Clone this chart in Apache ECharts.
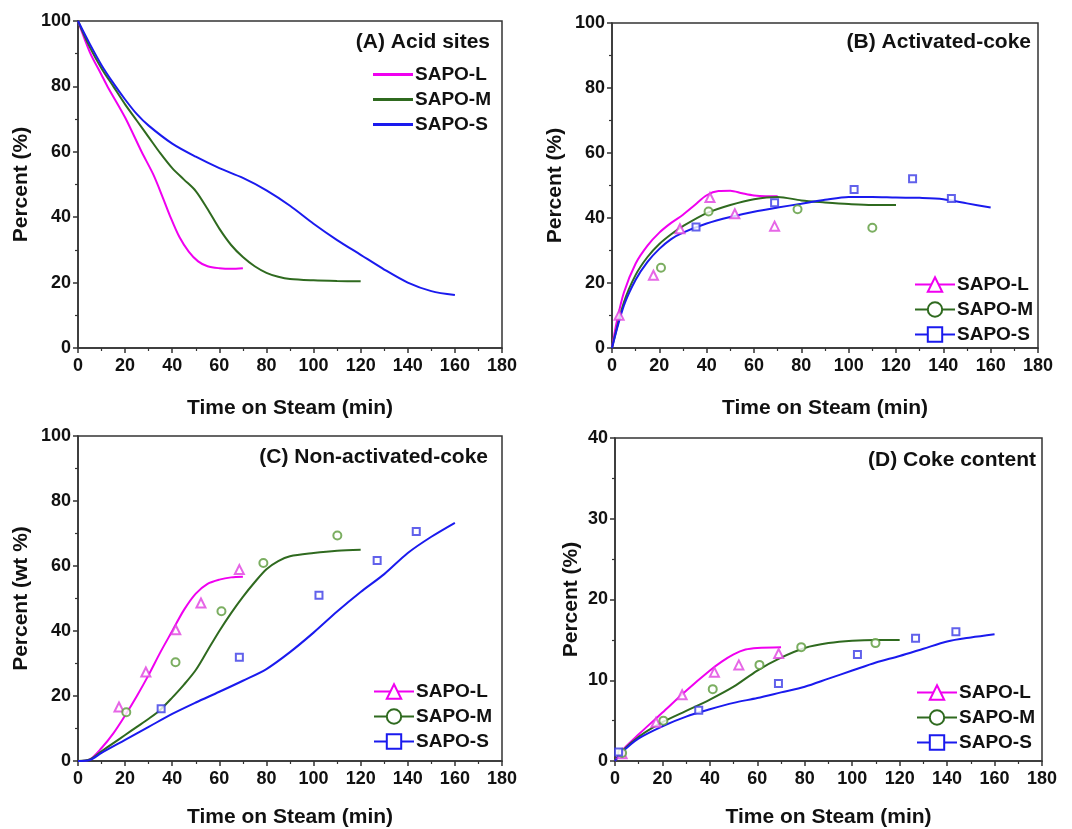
<!DOCTYPE html>
<html>
<head>
<meta charset="utf-8">
<script src="https://cdn.jsdelivr.net/npm/echarts@6/dist/echarts.min.js"></script>
<style>
  html, body { margin: 0; padding: 0; background: #fff; }
  #main { width: 1072px; height: 829px; }
</style>
</head>
<body>
<div id="main"></div>
<script>
// ---- data: [time (min), percent] ----
var names = ["SAPO-L", "SAPO-M", "SAPO-S"];
var xTicks = [0, 20, 40, 60, 80, 100, 120, 140, 160, 180];

// (A) Acid sites - fitted curves only
var acidL = [[0,100],[5,90.5],[10,83.5],[12.5,80],[20,70.5],[27,60],[32,53],[36,46],[39,40.5],[43,34],[47,29.5],[51,26.5],[55,25],[60,24.4],[65,24.2],[70,24.4]];
var acidM = [[0,100],[5,92],[10,85.5],[15,80],[20,74.5],[25,69.5],[30,64.5],[35,59.5],[40,55],[45,51.5],[50,48],[55,42.5],[60,36.5],[65,31.5],[70,27.8],[75,25],[80,23],[85,21.8],[90,21.1],[100,20.7],[110,20.5],[120,20.4]];
var acidS = [[0,100],[5,93],[10,86.5],[15,81],[20,76],[25,71.5],[30,68],[40,62.5],[50,58.5],[60,55],[70,52],[80,48.2],[90,43.5],[100,38],[110,33],[120,28.5],[130,24],[140,20],[150,17.4],[160,16.2]];

// (B) Activated-coke
var actFitL = [[0,0],[2,8],[5,17],[10,26],[15,31.5],[20,35.5],[25,38.5],[30,41],[35,44],[40,47],[45,48.3],[50,48.4],[55,47.6],[60,46.9],[65,46.7],[70,46.7]];
var actFitM = [[0,0],[5,14],[10,22.5],[15,28],[20,32],[25,35],[30,37.5],[40,41.5],[50,44],[60,45.8],[70,46.5],[80,45.4],[90,44.8],[100,44.3],[110,44],[120,44]];
var actFitS = [[0,0],[5,13],[10,21],[15,26.5],[20,30.5],[25,33.5],[30,35.5],[40,38.3],[50,40.3],[60,41.9],[70,43.2],[80,44.4],[90,45.6],[100,46.5],[110,46.5],[120,46.3],[130,46.2],[140,45.8],[150,44.5],[160,43.2]];
var actPtsL = [[3,10.1],[17.5,22.4],[28.7,36.7],[41.4,46.3],[51.9,41.3],[68.7,37.5]];
var actPtsM = [[20.7,24.7],[40.8,42],[78.4,42.7],[110,37]];
var actPtsS = [[35.5,37.2],[68.7,44.7],[102.3,48.8],[127,52.1],[143.4,46]];

// (C) Non-activated-coke
var nonFitL = [[0,0],[5,0.5],[10,4],[15,8.5],[20,14],[25,20],[30,26.5],[35,33.5],[40,40],[45,46.5],[50,51.5],[55,54.5],[60,55.8],[65,56.5],[70,56.7]];
var nonFitM = [[0,0],[5,0.5],[10,3],[15,5.5],[20,8],[25,10.5],[30,13],[35,15.8],[40,19.5],[45,23.5],[50,28],[55,34],[60,40],[65,45.5],[70,50.5],[75,55],[80,59],[85,61.5],[90,63],[100,64],[110,64.7],[120,65]];
var nonFitS = [[0,0],[5,0.3],[10,2.5],[20,6.5],[30,10.5],[40,14.5],[50,18],[60,21.3],[70,24.7],[80,28.3],[90,33.5],[100,39.5],[110,46],[120,52],[130,57.5],[140,64],[150,69],[160,73.3]];
var nonPtsL = [[17.4,16.6],[28.8,27.4],[41.5,40.4],[52.2,48.6],[68.5,58.9]];
var nonPtsM = [[20.5,15],[41.4,30.4],[60.9,46.1],[78.7,60.9],[110.1,69.4]];
var nonPtsS = [[35.3,16.1],[68.5,31.9],[102.3,51],[127,61.7],[143.6,70.6]];

// (D) Coke content
var cokeFitL = [[0,0],[3,1.3],[10,3.3],[20,6],[30,8.7],[40,11.2],[45,12.3],[50,13.2],[55,13.8],[60,14],[70,14.1]];
var cokeFitM = [[0,0],[3,1.2],[10,3],[20,4.8],[30,6.2],[40,7.6],[50,9.2],[60,11.2],[70,12.8],[80,14],[90,14.6],[100,14.9],[110,15],[120,15]];
var cokeFitS = [[0,0],[3,1.1],[10,2.8],[20,4.3],[30,5.5],[40,6.4],[50,7.2],[60,7.8],[70,8.5],[80,9.2],[90,10.2],[100,11.2],[110,12.2],[120,13],[130,13.9],[140,14.8],[150,15.3],[160,15.7]];
var cokePtsL = [[3,0.9],[17.3,4.8],[28.3,8.2],[41.9,11],[52.2,11.9],[69,13.3]];
var cokePtsM = [[3,1],[20.4,5],[41.2,8.9],[60.9,11.9],[78.5,14.1],[109.8,14.6]];
var cokePtsS = [[1.5,1.1],[35.3,6.3],[68.9,9.6],[102.2,13.2],[126.7,15.2],[143.7,16]];

var lineColors = ["#f000f0", "#2f6a1f", "#1a1aee"];
var ptColors = ["#e040e0", "#5a9a3a", "#3a3ae6"];
var symbols = ["emptyTriangle", "emptyCircle", "emptyRect"];
var ptSizes = [9, 8, 7];

var fontFam = "Liberation Sans, Arial, sans-serif";
var myChart = echarts.init(document.getElementById("main"));

var grids = [
  { left: 78, top: 21, width: 424, height: 327 },
  { left: 612, top: 23, width: 426, height: 325 },
  { left: 78, top: 436, width: 424, height: 326 },
  { left: 615, top: 438, width: 427, height: 326 }
];
grids.forEach(function (g) {
  g.show = true;
  g.borderColor = "#333";
  g.borderWidth = 1.5;
  g.backgroundColor = "transparent";
});

function xAx(i, gap) {
  return {
    gridIndex: i, type: "value", min: 0, max: 180, interval: 20,
    name: "Time on Steam (min)", nameLocation: "middle", nameGap: gap,
    nameTextStyle: { fontSize: 21, fontWeight: "bold", color: "#111", fontFamily: fontFam },
    axisLine: { lineStyle: { color: "#333", width: 1.5 } },
    axisTick: { inside: false, length: 5, lineStyle: { color: "#333", width: 1.5 } },
    minorTick: { show: true, splitNumber: 2, length: 3, lineStyle: { color: "#333", width: 1.2 } },
    axisLabel: { fontSize: 18, fontWeight: "bold", color: "#111", margin: 9, fontFamily: fontFam },
    splitLine: { show: false }
  };
}
function yAx(i, max, step, title, gap) {
  return {
    gridIndex: i, type: "value", min: 0, max: max, interval: step,
    name: title, nameLocation: "middle", nameGap: gap,
    nameTextStyle: { fontSize: 21, fontWeight: "bold", color: "#111", fontFamily: fontFam },
    axisLine: { show: true, lineStyle: { color: "#333", width: 1.5 } },
    axisTick: { show: true, inside: false, length: 5, lineStyle: { color: "#333", width: 1.5 } },
    minorTick: { show: true, splitNumber: 2, length: 3, lineStyle: { color: "#333", width: 1.2 } },
    axisLabel: { fontSize: 18, fontWeight: "bold", color: "#111", margin: 7, fontFamily: fontFam },
    splitLine: { show: false }
  };
}

var series = [];
function addFit(tag, i, k, data, withSymbol) {
  series.push({
    name: tag + "·" + names[k], type: "line", xAxisIndex: i, yAxisIndex: i,
    data: data, smooth: 0.3, showSymbol: false,
    symbol: withSymbol ? symbols[k] : "none", symbolSize: ptSizes[k],
    itemStyle: { color: lineColors[k] },
    lineStyle: { color: lineColors[k], width: 2 },
    silent: true, z: 2
  });
}
function addPts(tag, i, k, data) {
  series.push({
    name: tag + "pts·" + names[k], type: "scatter", xAxisIndex: i, yAxisIndex: i,
    data: data, symbol: symbols[k], symbolSize: ptSizes[k],
    itemStyle: { color: ptColors[k], borderWidth: 1.5 },
    silent: true, z: 3
  });
}

addFit("A", 0, 0, acidL, false);
addFit("A", 0, 1, acidM, false);
addFit("A", 0, 2, acidS, false);

addPts("B", 1, 0, actPtsL); addPts("B", 1, 1, actPtsM); addPts("B", 1, 2, actPtsS);
addFit("B", 1, 0, actFitL, true); addFit("B", 1, 1, actFitM, true); addFit("B", 1, 2, actFitS, true);

addPts("C", 2, 0, nonPtsL); addPts("C", 2, 1, nonPtsM); addPts("C", 2, 2, nonPtsS);
addFit("C", 2, 0, nonFitL, true); addFit("C", 2, 1, nonFitM, true); addFit("C", 2, 2, nonFitS, true);

addPts("D", 3, 0, cokePtsL); addPts("D", 3, 1, cokePtsM); addPts("D", 3, 2, cokePtsS);
addFit("D", 3, 0, cokeFitL, true); addFit("D", 3, 1, cokeFitM, true); addFit("D", 3, 2, cokeFitS, true);

function legendFor(tag, left, top, lineOnly) {
  return {
    orient: "vertical", left: left, top: top, padding: 0,
    itemWidth: 40, itemHeight: lineOnly ? 3 : 18, itemGap: 6,
    icon: lineOnly ? "rect" : undefined,
    selectedMode: false,
    data: names.map(function (n) { return tag + "·" + n; }),
    formatter: function (n) { return n.split("·")[1]; },
    textStyle: { fontSize: 19, fontWeight: "bold", color: "#111", fontFamily: fontFam, padding: [0, 0, 0, -3] }
  };
}

function titleFor(text, right, top) {
  return {
    text: text, right: right, top: top, padding: 0,
    textStyle: { fontSize: 21, fontWeight: "bold", color: "#111", fontFamily: fontFam }
  };
}

var option = {
  animation: false,
  backgroundColor: "#fff",
  title: [
    titleFor("(A) Acid sites", 582, 32),
    titleFor("(B) Activated-coke", 41, 32),
    titleFor("(C) Non-activated-coke", 584, 447),
    titleFor("(D) Coke content", 36, 450)
  ],
  legend: [
    legendFor("A", 373, 65, true),
    legendFor("B", 914, 275, false),
    legendFor("C", 373, 682, false),
    legendFor("D", 916, 683, false)
  ],
  grid: grids,
  xAxis: [xAx(0, 50), xAx(1, 50), xAx(2, 46), xAx(3, 46)],
  yAxis: [
    yAx(0, 100, 20, "Percent (%)", 46),
    yAx(1, 100, 20, "Percent (%)", 46),
    yAx(2, 100, 20, "Percent (wt %)", 46),
    yAx(3, 40, 10, "Percent (%)", 33)
  ],
  series: series
};
myChart.setOption(option);
</script>
</body>
</html>
